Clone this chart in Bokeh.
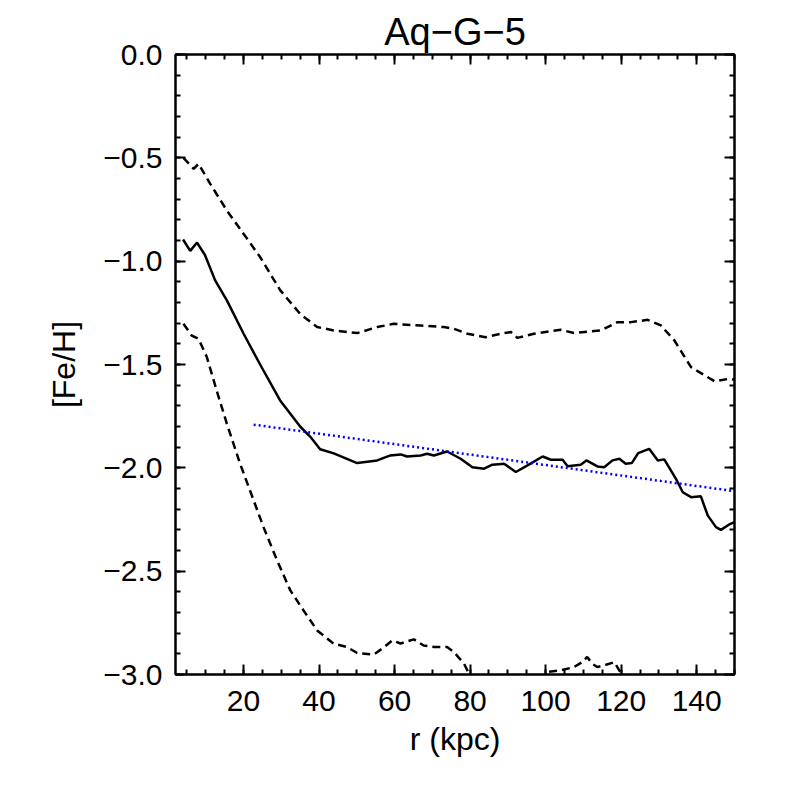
from bokeh.plotting import figure
from bokeh.models import Range1d, FixedTicker, LinearAxis, CustomJSTickFormatter
from bokeh.embed import file_html
from bokeh.resources import INLINE

# ---- data ----
r_med = [4.0, 5.9, 7.7, 9.8, 12.5, 15.6, 20.0, 24.4, 29.7, 35.0,
         37.7, 40.3, 43.9, 50.1, 55.4, 58.9, 61.6, 63.3, 66.9, 68.6,
         70.4, 73.9, 77.5, 80.6, 83.7, 85.9, 89.0, 92.1, 95.2, 99.2,
         101.4, 104.5, 105.8, 109.3, 110.8, 113.7, 115.5, 117.7, 119.5, 121.2,
         122.8, 124.5, 127.4, 129.7, 131.4, 134.5, 136.3, 138.5, 141.1, 142.9,
         145.1, 146.4, 148.6, 150.0]
feh_med = [-0.895, -0.95, -0.91, -0.97, -1.093, -1.19, -1.35, -1.50, -1.674, -1.80,
           -1.85, -1.91, -1.93, -1.977, -1.964, -1.94, -1.935, -1.945, -1.94, -1.932,
           -1.94, -1.921, -1.956, -1.997, -2.004, -1.985, -1.98, -2.02, -1.988, -1.945,
           -1.961, -1.961, -1.992, -1.985, -1.964, -1.993, -1.997, -1.964, -1.956, -1.98,
           -1.977, -1.929, -1.908, -1.964, -1.959, -2.053, -2.118, -2.142, -2.138, -2.23,
           -2.287, -2.30, -2.274, -2.263]

r_up = [4.1, 6.8, 8.1, 11.2, 15.6, 20.0, 24.4, 29.7, 35.0, 39.5,
        43.9, 50.1, 55.4, 59.8, 61.6, 66.9, 73.1, 75.7, 79.3, 84.1,
        88.1, 90.8, 92.5, 96.9, 104.0, 107.5, 114.6, 119.0, 122.6, 127.0,
        130.5, 134.1, 138.5, 144.7, 148.6, 150.0]
feh_up = [-0.50, -0.553, -0.529, -0.626, -0.755, -0.867, -0.98, -1.14, -1.255, -1.319,
          -1.335, -1.348, -1.319, -1.303, -1.306, -1.311, -1.319, -1.327, -1.351, -1.368,
          -1.351, -1.343, -1.371, -1.351, -1.332, -1.348, -1.335, -1.295, -1.295, -1.284,
          -1.311, -1.384, -1.513, -1.581, -1.569, -1.574]

r_lo = [4.1, 6.3, 8.1, 10.3, 12.9, 15.6, 19.1, 22.7, 25.3, 28.9,
        32.4, 35.9, 39.5, 43.9, 47.4, 50.1, 54.5, 57.1, 59.4, 61.6,
        65.1, 67.7, 70.4, 73.9, 75.7, 78.4, 79.7, 81.5, 90.0, 99.0,
        100.5, 104.0, 107.5, 109.7, 111.0, 112.3, 113.7, 115.5, 118.2, 120.0,
        122.0, 135.0, 150.0]
feh_lo = [-1.303, -1.36, -1.376, -1.464, -1.626, -1.787, -1.98, -2.158, -2.287, -2.448,
          -2.593, -2.69, -2.787, -2.851, -2.867, -2.896, -2.903, -2.87, -2.835, -2.85,
          -2.83, -2.86, -2.867, -2.867, -2.891, -2.948, -2.996, -3.05, -3.08, -3.03,
          -2.988, -2.98, -2.964, -2.94, -2.915, -2.948, -2.964, -2.956, -2.94, -2.996,
          -3.04, -3.1, -3.12]

fit_r = [22.7, 150.0]
fit_feh = [-1.791, -2.113]

x_major = [20, 40, 60, 80, 100, 120, 140]
x_minor = [5 * i for i in range(1, 31)]
y_major = [-3.0, -2.5, -2.0, -1.5, -1.0, -0.5, 0.0]
y_minor = [round(-0.1 * i, 1) for i in range(0, 31)]

FONT = "Liberation Sans"

p = figure(frame_width=559, frame_height=620, output_backend="svg", toolbar_location=None,
           x_range=Range1d(2, 150), y_range=Range1d(-3.0, 0.0),
           min_border_left=175, min_border_right=36, min_border_top=54,
           min_border_bottom=96, x_axis_type=None, y_axis_type=None)

p.title.text = "Aq\u2212G\u22125"
p.title.align = "center"
p.title.vertical_align = "top"
p.title.text_font = FONT
p.title.text_font_size = "38px"
p.title.text_font_style = "normal"
p.title.text_color = "black"
p.title.standoff = 0

p.grid.visible = False
p.background_fill_color = "white"
p.border_fill_color = "white"
p.outline_line_color = "black"
p.outline_line_width = 2

fmt_y = CustomJSTickFormatter(code="return tick.toFixed(1).replace('-', '\u2212');")
fmt_x = CustomJSTickFormatter(code="return tick.toFixed(0);")
fmt_none = CustomJSTickFormatter(code="return '';")


def style(ax, show_labels):
    ax.axis_line_width = 2
    ax.axis_line_color = "black"
    ax.major_tick_in = 10
    ax.major_tick_out = 0
    ax.minor_tick_in = 5
    ax.minor_tick_out = 0
    ax.major_tick_line_width = 2
    ax.minor_tick_line_width = 2
    ax.major_tick_line_color = "black"
    ax.minor_tick_line_color = "black"
    ax.major_label_text_font = FONT
    ax.major_label_text_color = "black"
    ax.axis_label_text_font = FONT
    ax.axis_label_text_font_style = "normal"
    ax.axis_label_text_color = "black"
    ax.axis_label_text_font_size = "32px"
    if show_labels:
        ax.major_label_text_font_size = "30px"
    else:
        ax.major_label_text_font_size = "1px"
        ax.major_label_standoff = 0


xb = LinearAxis(ticker=FixedTicker(ticks=x_major, minor_ticks=x_minor), formatter=fmt_x,
                axis_label="r (kpc)")
style(xb, True)
xb.major_label_standoff = 16
xb.axis_label_standoff = 7
p.add_layout(xb, "below")

xt = LinearAxis(ticker=FixedTicker(ticks=x_major, minor_ticks=x_minor), formatter=fmt_none)
style(xt, False)
p.add_layout(xt, "above")

yl = LinearAxis(ticker=FixedTicker(ticks=y_major, minor_ticks=y_minor), formatter=fmt_y,
                axis_label="[Fe/H]")
style(yl, True)
yl.major_label_standoff = 13
yl.axis_label_standoff = 18
p.add_layout(yl, "left")

yr = LinearAxis(ticker=FixedTicker(ticks=y_major, minor_ticks=y_minor), formatter=fmt_none)
style(yr, False)
p.add_layout(yr, "right")

p.line(r_up, feh_up, line_color="black", line_width=2.5, line_dash="8 5")
p.line(r_lo, feh_lo, line_color="black", line_width=2.5, line_dash="8 5")
p.line(r_med, feh_med, line_color="black", line_width=2.5)
p.line(fit_r, fit_feh, line_color="#0000ff", line_width=2.5, line_dash="2 3")

open("out.html", "w").write(file_html(p, INLINE))
